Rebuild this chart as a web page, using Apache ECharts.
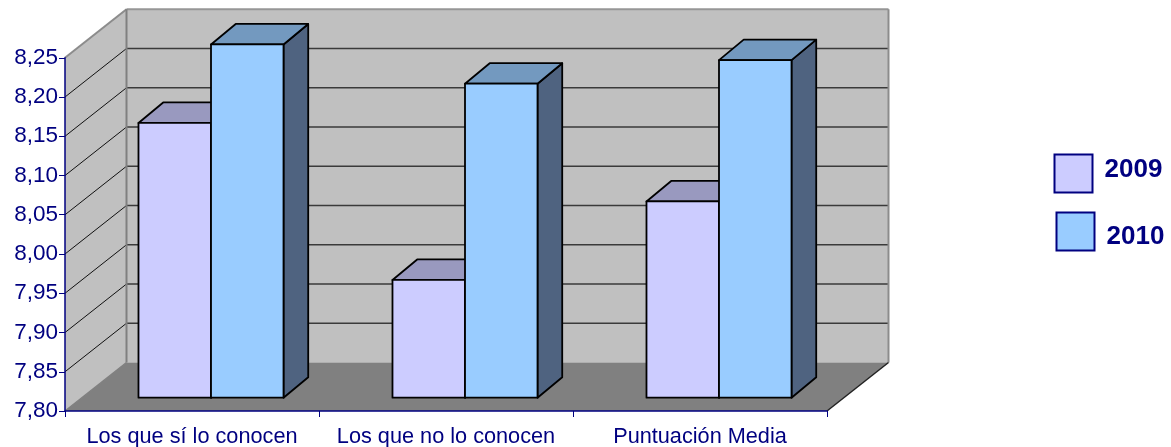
<!DOCTYPE html>
<html lang="es">
<head>
<meta charset="utf-8">
<title>Puntuación media 2009 - 2010</title>
<style>
  html, body { margin: 0; padding: 0; background: #fff; }
  #chart { width: 1171px; height: 447px; }
</style>
</head>
<body>
<div id="chart"></div>
<script src="https://cdn.jsdelivr.net/npm/echarts@6/dist/echarts.min.js"></script>
<script>
const categories = ['Los que sí lo conocen', 'Los que no lo conocen', 'Puntuación Media'];
const values2009 = [8.15, 7.95, 8.05];
const values2010 = [8.25, 8.20, 8.23];
const yTicks = [7.80, 7.85, 7.90, 7.95, 8.00, 8.05, 8.10, 8.15, 8.20, 8.25];

const NAVY = '#000080';
const FONT = '"Liberation Sans", Arial, sans-serif';

// fake 3D: how far the back wall sits from the axis plane, in px
const WALL_DX = 61.5, WALL_DY = -48.5;
// bar placement inside that depth
const BAR_DX = 19, BAR_DY = -13.3, BAR_DEPTH_X = 24.7, BAR_DEPTH_Y = -20.5;
const BAR_W = 0.2855;  // share of one category

const pts = (a) => a.map((p) => [p[0], p[1]]);
const shift = (p, dx, dy) => [p[0] + dx, p[1] + dy];

function poly(points, fill, stroke, width) {
  return {
    type: 'polygon', shape: { points: pts(points) },
    style: { fill: fill, stroke: stroke || null, lineWidth: width || 0, lineJoin: 'round' },
  };
}
function seg(a, b, stroke, width) {
  return {
    type: 'line', shape: { x1: a[0], y1: a[1], x2: b[0], y2: b[1] },
    style: { stroke: stroke, lineWidth: width },
  };
}

/* ---- walls, floor and depth gridlines ---- */
function renderWalls(params, api) {
  const cs = params.coordSys;
  const left = cs.x, right = cs.x + cs.width;
  const v = api.value(1);
  const y = api.coord([0, v])[1];
  const yLow = api.coord([0, yTicks[0]])[1];
  const yHigh = api.coord([0, yTicks[yTicks.length - 1]])[1];
  const kids = [];

  if (params.dataIndex === 0) {
    const fl = [left, yLow], fh = [left, yHigh];
    const bl = shift(fl, WALL_DX, WALL_DY), bh = shift(fh, WALL_DX, WALL_DY);
    const br = [right + WALL_DX, yLow + WALL_DY], brh = [right + WALL_DX, yHigh + WALL_DY];
    kids.push(poly([fh, bh, bl, fl], '#c0c0c0'));
    kids.push(poly([bh, brh, br, bl], '#c0c0c0'));
    kids.push(poly([fl, [right, yLow], br, bl], '#808080'));
  }
  if (v !== yTicks[0] && v !== yTicks[yTicks.length - 1]) {
    const a = [left, y], b = shift(a, WALL_DX, WALL_DY);
    kids.push(seg(a, b, '#111', 1));
    kids.push(seg(b, [right + WALL_DX, y + WALL_DY], '#3a3a3a', 1.5));
  }
  if (params.dataIndex === yTicks.length - 1) {
    const fl = [left, yLow], fh = [left, yHigh];
    const bl = shift(fl, WALL_DX, WALL_DY), bh = shift(fh, WALL_DX, WALL_DY);
    const br = [right + WALL_DX, yLow + WALL_DY], brh = [right + WALL_DX, yHigh + WALL_DY];
    kids.push(seg(fh, bh, '#8c8c8c', 2));
    kids.push(seg(bh, brh, '#969696', 2));
    kids.push(seg(brh, br, '#8c8c8c', 2));
    kids.push(seg(bh, bl, '#808080', 2));
    kids.push(seg(fl, bl, '#808080', 1.5));
    kids.push(seg([right, yLow], br, '#222', 1.5));
  }
  return { type: 'group', children: kids };
}

/* ---- one bar: side, top, front ---- */
function barRenderer(colFront, colTop, colSide, slot) {
  return function (params, api) {
    const top = api.coord([api.value(0), api.value(1)]);
    const base = api.coord([api.value(0), yTicks[0]]);
    const w = api.size([1, 0])[0] * BAR_W;
    const x0 = top[0] + BAR_DX + (slot - 1) * w, x1 = x0 + w;
    const yT = top[1] + BAR_DY, yB = base[1] + BAR_DY;
    const dx = BAR_DEPTH_X, dy = BAR_DEPTH_Y;
    const edge = '#000';
    return {
      type: 'group',
      children: [
        poly([[x1, yT], [x1 + dx, yT + dy], [x1 + dx, yB + dy], [x1, yB]], colSide, edge, 1.8),
        poly([[x0, yT], [x0 + dx, yT + dy], [x1 + dx, yT + dy], [x1, yT]], colTop, edge, 1.8),
        poly([[x0, yT], [x1, yT], [x1, yB], [x0, yB]], colFront, edge, 1.8),
      ],
    };
  };
}

// the two legend labels sit off-centre from their swatches in the original
const legendRich = {
  color: NAVY, fontFamily: FONT, fontWeight: 'bold', fontSize: 26,
  rich: {
    up: { color: NAVY, fontFamily: FONT, fontWeight: 'bold', fontSize: 26, padding: [0, 0, 8, 7] },
    down: { color: NAVY, fontFamily: FONT, fontWeight: 'bold', fontSize: 26, padding: [10, 0, 0, 7] },
  },
};
const legendBase = {
  orient: 'vertical', icon: 'rect', itemWidth: 38, itemHeight: 38,
  selectedMode: false, padding: 0, textStyle: legendRich,
  itemStyle: { borderColor: NAVY, borderWidth: 2 },
};

const chart = echarts.init(document.getElementById('chart'), null, { renderer: 'canvas' });
chart.setOption({
  animation: false,
  backgroundColor: '#fff',
  grid: { left: 65, right: 344, top: 57.75, bottom: 36, outerBoundsMode: 'none' },
  legend: [
    Object.assign({}, legendBase, { data: ['2009'], left: 1053.5, top: 153.5,
      formatter: (n) => '{up|' + n + '}' }),
    Object.assign({}, legendBase, { data: ['2010'], left: 1055.5, top: 211.5,
      formatter: (n) => '{down|' + n + '}' }),
  ],
  xAxis: {
    type: 'category', data: categories, z: 10,
    axisLine: { show: true, lineStyle: { color: NAVY, width: 1.5 } },
    axisTick: { show: true, length: 6, lineStyle: { color: NAVY } },
    axisLabel: { color: NAVY, fontFamily: FONT, fontSize: 21.7, margin: 15, interval: 0 },
    splitLine: { show: false },
  },
  yAxis: {
    type: 'value', min: 7.8, max: 8.25, interval: 0.05, z: 10,
    axisLine: { show: true, lineStyle: { color: NAVY, width: 1.5 } },
    axisTick: { show: true, length: 6, lineStyle: { color: NAVY } },
    axisLabel: {
      color: NAVY, fontFamily: FONT, fontSize: 22.5, margin: 7,
      formatter: (v) => v.toFixed(2).replace('.', ','),
    },
    splitLine: { show: false },
  },
  series: [
    { name: 'walls', type: 'custom', silent: true, z: 1, renderItem: renderWalls,
      data: yTicks.map((t) => [0, t]) },
    { name: '2009', type: 'custom', z: 2, itemStyle: { color: '#ccccff' },
      renderItem: barRenderer('#ccccff', '#9999bf', '#4f6380', 0),
      data: values2009.map((v, i) => [i, v]) },
    { name: '2010', type: 'custom', z: 3, itemStyle: { color: '#99ccff' },
      renderItem: barRenderer('#99ccff', '#7399bf', '#4f6380', 1),
      data: values2010.map((v, i) => [i, v]) },
  ],
});
window.addEventListener('resize', () => chart.resize());
</script>
</body>
</html>
